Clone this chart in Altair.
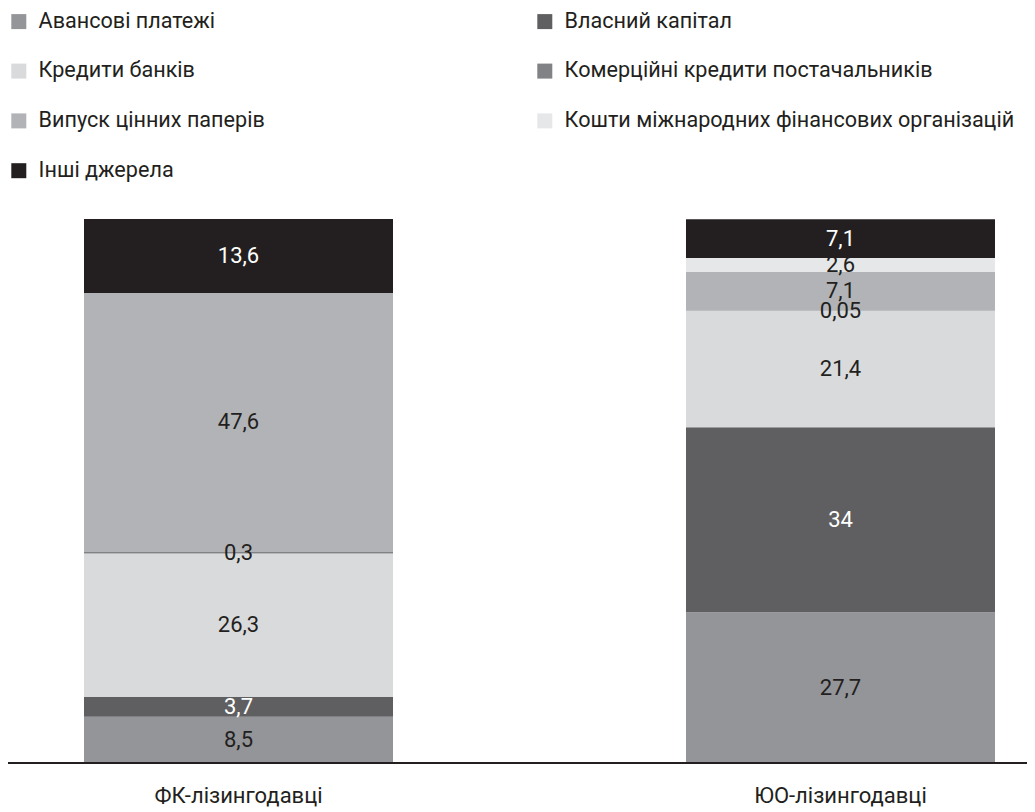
import altair as alt
import pandas as pd

categories = ["ФК-лізингодавці", "ЮО-лізингодавці"]
series = [
    "Авансові платежі",
    "Власний капітал",
    "Кредити банків",
    "Комерційні кредити постачальників",
    "Випуск цінних паперів",
    "Кошти міжнародних фінансових організацій",
    "Інші джерела",
]
fk_values = [8.5, 3.7, 26.3, 0.3, 47.6, 0.0, 13.6]
yuo_values = [27.7, 34.0, 21.4, 0.05, 7.1, 2.6, 7.1]
value_labels_fk = ["8,5", "3,7", "26,3", "0,3", "47,6", "", "13,6"]
value_labels_yuo = ["27,7", "34", "21,4", "0,05", "7,1", "2,6", "7,1"]
colors = ["#939598", "#5f5f61", "#d9dadc", "#808285", "#b1b3b6", "#e6e7e8", "#231f20"]
label_colors = ["#231f20", "#ffffff", "#231f20", "#231f20", "#231f20", "#231f20", "#ffffff"]
# legend order (fills column by column)
legend_order = [0, 2, 4, 6, 1, 3, 5]

rows = []
for cat, vals, labs in [(categories[0], fk_values, value_labels_fk),
                        (categories[1], yuo_values, value_labels_yuo)]:
    base = 0.0
    for i, (s, v, lab) in enumerate(zip(series, vals, labs)):
        rows.append({"cat": cat, "series": s, "order": i, "v0": base, "v1": base + v,
                     "mid": base + v / 2, "label": lab, "tcolor": label_colors[i]})
        base += v
df = pd.DataFrame(rows)

legend_domain = [series[i] for i in legend_order]
legend_range = [colors[i] for i in legend_order]

FONT = "Roboto"
FS = 22
LFS = 21.6
W, H = 1019, 544

x_enc = alt.X("cat:N", sort=categories, title=None,
              scale=alt.Scale(range=[76, 987], paddingInner=0.4867, paddingOuter=0),
              axis=alt.Axis(domain=False, ticks=False, labelAngle=0, labelFont=FONT,
                            labelFontSize=FS, labelColor="#231f20", labelPadding=32,
                            labelBaseline="middle"))
y_scale = alt.Scale(domain=[0, 100])

bars = alt.Chart(df).mark_bar(stroke=None).encode(
    x=x_enc,
    y=alt.Y("v0:Q", scale=y_scale, axis=None),
    y2="v1:Q",
    color=alt.Color("series:N", scale=alt.Scale(domain=legend_domain, range=legend_range),
                    legend=alt.Legend(title=None, orient="none", legendX=0, legendY=-208.5,
                                      columns=2, columnPadding=269, rowPadding=26.8,
                                      symbolType="square", symbolSize=225,
                                      symbolStrokeWidth=0, symbolOpacity=1,
                                      labelFont=FONT, labelFontSize=LFS,
                                      labelColor="#231f20", labelOffset=9,
                                      labelLimit=600, padding=0, offset=0)),
    order=alt.Order("order:Q"),
)

texts = alt.Chart(df).transform_filter("datum.label != ''").mark_text(
    font=FONT, fontSize=FS, baseline="middle", align="center"
).encode(
    x=alt.X("cat:N", sort=categories),
    y=alt.Y("mid:Q", scale=y_scale),
    text="label:N",
    color=alt.Color("tcolor:N", scale=None),
)

baseline = alt.Chart(df).mark_rule(color="#231f20", strokeWidth=2).encode(
    x=alt.value(0), x2=alt.value(W), y=alt.value(H)
)

chart = alt.layer(bars, texts, baseline).properties(
    width=W, height=H,
    padding={"left": 0, "right": 0, "top": 211, "bottom": 45},
    autosize=alt.AutoSizeParams(type="none"),
).configure_view(stroke=None)

chart.save("out.html", embed_options={"renderer": "svg", "actions": False})
